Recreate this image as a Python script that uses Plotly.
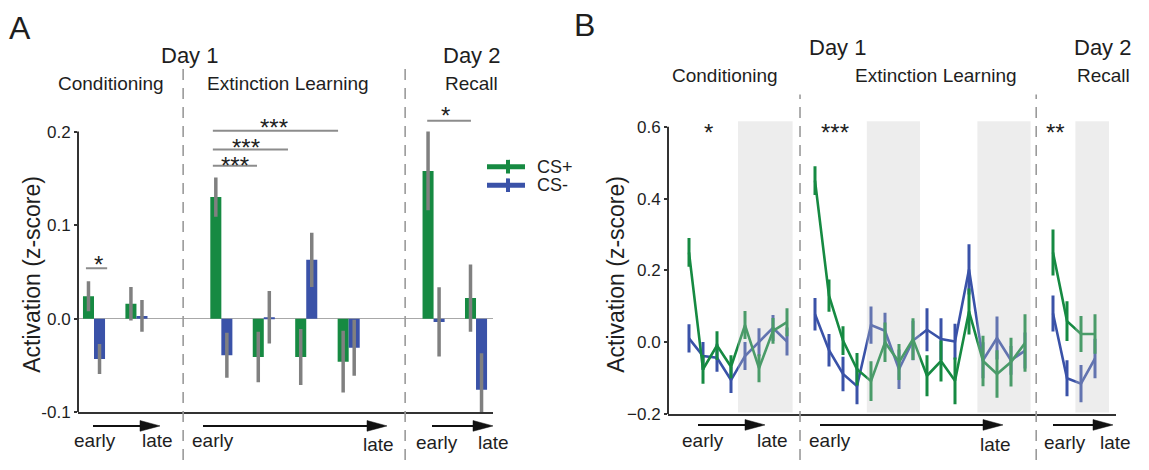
import plotly.graph_objects as go

W, H = 1149, 470
FONT = "Liberation Sans, Arial, sans-serif"
GREEN = "#168a42"
BLUE = "#3a52a8"
TXT = "#1e1e1e"


def px(x):
    return x / W


def py(y):
    return 1 - y / H


# ---------------- Panel A data (block means, z-score) ----------------
a_cond_plus = [0.024, 0.016]
a_cond_minus = [-0.043, 0.003]
a_ext_plus = [0.130, -0.041, -0.041, -0.046]
a_ext_minus = [-0.039, 0.0015, 0.063, -0.031]
a_rec_plus = [0.158, 0.022]
a_rec_minus = [-0.0035, -0.076]

a_cond_plus_err = [0.016, 0.018]
a_cond_minus_err = [0.016, 0.017]
a_ext_plus_err = [0.021, 0.027, 0.030, 0.033]
a_ext_minus_err = [0.024, 0.028, 0.029, 0.030]
a_rec_plus_err = [0.042, 0.036]
a_rec_minus_err = [0.037, 0.039]

# ---------------- Panel B data (trial-wise, z-score) ----------------
b_cond_plus = [0.25, -0.075, -0.009, -0.068, 0.048, -0.072, 0.032, 0.056]
b_cond_minus = [0.011, -0.038, -0.043, -0.105, -0.038, 0.000, 0.040, 0.002]
b_ext_plus = [0.45, 0.13, 0.005, -0.075, -0.108, 0.000, -0.055, 0.009,
              -0.093, -0.052, -0.107, 0.086, -0.052, -0.088, -0.055, -0.002]
b_ext_minus = [0.078, -0.022, -0.088, -0.122, 0.048, 0.032, -0.075, 0.005,
               0.035, 0.009, 0.002, 0.203, -0.050, 0.012, -0.050, -0.023]
b_rec_plus = [0.25, 0.059, 0.023, 0.023]
b_rec_minus = [0.08, -0.100, -0.115, -0.045]

b_cond_plus_err = [0.040, 0.040, 0.040, 0.032, 0.039, 0.039, 0.036, 0.039]
b_cond_minus_err = [0.039, 0.039, 0.039, 0.036, 0.039, 0.039, 0.036, 0.039]
b_ext_plus_err = [0.040, 0.045, 0.040, 0.045, 0.055, 0.055, 0.050, 0.058,
                  0.057, 0.057, 0.065, 0.064, 0.070, 0.066, 0.068, 0.080]
b_ext_minus_err = [0.045, 0.045, 0.048, 0.050, 0.052, 0.050, 0.055, 0.055,
                   0.060, 0.058, 0.050, 0.070, 0.050, 0.060, 0.040, 0.050]
b_rec_plus_err = [0.064, 0.055, 0.050, 0.055]
b_rec_minus_err = [0.050, 0.050, 0.052, 0.055]


def positions(lengths, start=0):
    """Consecutive integer slots per phase with one empty slot between phases."""
    out, s = [], start
    for n in lengths:
        out.append(list(range(s, s + n)))
        s += n + 1
    return out


posA = positions([len(a_cond_plus), len(a_ext_plus), len(a_rec_plus)])
xA = sum(posA, [])
posB = positions([len(b_cond_plus), len(b_ext_plus), len(b_rec_plus)])

fig = go.Figure()

# Panel A bars
err_style = dict(type="data", color="#808080", thickness=3.5, width=0, visible=True)
fig.add_trace(go.Bar(
    x=xA, y=a_cond_plus + a_ext_plus + a_rec_plus, name="CS+",
    marker=dict(color=GREEN, line=dict(width=0)), offsetgroup="p",
    error_y=dict(array=a_cond_plus_err + a_ext_plus_err + a_rec_plus_err, **err_style),
    xaxis="x", yaxis="y", showlegend=False))
fig.add_trace(go.Bar(
    x=xA, y=a_cond_minus + a_ext_minus + a_rec_minus, name="CS-",
    marker=dict(color=BLUE, line=dict(width=0)), offsetgroup="m",
    error_y=dict(array=a_cond_minus_err + a_ext_minus_err + a_rec_minus_err, **err_style),
    xaxis="x", yaxis="y", showlegend=False))

# Panel B lines
seriesB = [
    (b_cond_minus, b_cond_minus_err, BLUE, posB[0]),
    (b_ext_minus, b_ext_minus_err, BLUE, posB[1]),
    (b_rec_minus, b_rec_minus_err, BLUE, posB[2]),
    (b_cond_plus, b_cond_plus_err, GREEN, posB[0]),
    (b_ext_plus, b_ext_plus_err, GREEN, posB[1]),
    (b_rec_plus, b_rec_plus_err, GREEN, posB[2]),
]
for vals, errs, col, xs in seriesB:
    fig.add_trace(go.Scatter(
        x=xs, y=vals, mode="lines", line=dict(color=col, width=2.6),
        error_y=dict(type="data", array=errs, color=col, thickness=3, width=0),
        xaxis="x2", yaxis="y2", showlegend=False, hoverinfo="skip"))

shapes = []
# y axis lines (drawn only over the labelled range)
shapes.append(dict(type="line", xref="x domain", yref="y", x0=0, x1=0, y0=-0.1, y1=0.2,
                   line=dict(color="#333333", width=2)))
shapes.append(dict(type="line", xref="x2 domain", yref="y2", x0=0, x1=0, y0=-0.2, y1=0.6,
                   line=dict(color="#333333", width=2)))

# grey shading in panel B
for x0, x1 in [(3.5, 7.4), (12.7, 16.5), (20.6, 24.4), (27.6, 30.0)]:
    shapes.append(dict(type="rect", xref="x2", yref="y2", x0=x0, x1=x1, y0=-0.195, y1=0.615,
                       fillcolor="#c4c4c4", opacity=0.3, line=dict(width=0), layer="above"))

# dashed phase separators
dash = dict(color="#9a9a9a", width=1.6, dash="11px,8px")
for xv, top in [(2.10, 66), (7.33, 66)]:
    shapes.append(dict(type="line", xref="x", yref="paper", x0=xv, x1=xv, y0=0, y1=py(top), line=dash))
for xv, top in [(7.93, 95), (24.8, 95)]:
    shapes.append(dict(type="line", xref="x2", yref="paper", x0=xv, x1=xv, y0=0, y1=py(top), line=dash))

# significance bars (panel A)
sig_lines = [(-0.19, 0.31, 0.054), (2.80, 3.84, 0.1635), (2.80, 4.57, 0.181),
             (2.80, 5.75, 0.201), (7.85, 8.88, 0.2115)]
for x0, x1, yv in sig_lines:
    shapes.append(dict(type="line", xref="x", yref="y", x0=x0, x1=x1, y0=yv, y1=yv,
                       line=dict(color="#8c8c8c", width=2)))

# early -> late arrows
arrows = [(93, 160, 435), (203, 387, 435), (432, 493, 435),
          (698, 765, 434), (820, 1003, 434), (1053, 1113, 434)]
for x0, x1, yy in arrows:
    shapes.append(dict(type="line", xref="paper", yref="paper", x0=px(x0), x1=px(x1 - 16),
                       y0=py(yy), y1=py(yy), line=dict(color="#111111", width=2)))
    path = "M {} {} L {} {} L {} {} Z".format(px(x1), py(yy), px(x1 - 20), py(yy - 5.5),
                                              px(x1 - 20), py(yy + 5.5))
    shapes.append(dict(type="path", xref="paper", yref="paper", path=path,
                       fillcolor="#111111", line=dict(color="#111111", width=0.5)))

# legend glyphs
for col, yy in [(GREEN, 169), (BLUE, 188)]:
    shapes.append(dict(type="line", xref="paper", yref="paper", x0=px(487), x1=px(525),
                       y0=py(yy), y1=py(yy), line=dict(color=col, width=5)))
    shapes.append(dict(type="line", xref="paper", yref="paper", x0=px(508), x1=px(508),
                       y0=py(yy - 7), y1=py(yy + 7), line=dict(color=col, width=4)))

ann = []


def text(t, x, y, size, xanchor="center", angle=0):
    ann.append(dict(text=t, x=px(x), y=py(y), xref="paper", yref="paper", showarrow=False,
                    xanchor=xanchor, yanchor="middle", textangle=angle,
                    font=dict(family=FONT, size=size, color=TXT)))


text("A", 20, 27, 32)
text("B", 584, 24, 32)
for t, x, y, s in [("Day 1", 189, 55, 22), ("Conditioning", 111, 84, 19),
                   ("Extinction Learning", 288, 84, 19), ("Day 2", 471, 55, 22),
                   ("Recall", 471, 84, 19),
                   ("Day 1", 837, 47, 22), ("Conditioning", 725, 75, 19),
                   ("Extinction Learning", 936, 75, 19), ("Day 2", 1102, 47, 22),
                   ("Recall", 1103, 75, 19)]:
    text(t, x, y, s)

for t, x, y in [("early", 95, 450), ("late", 157, 450), ("early", 213, 450), ("late", 378, 454),
                ("early", 437, 452), ("late", 493, 452),
                ("early", 703, 450), ("late", 772, 450), ("early", 830, 450), ("late", 995, 454),
                ("early", 1065, 452), ("late", 1115, 452)]:
    text(t, x, y, 19)

# asterisks
for t, x, y in [("*", 98, 263), ("***", 235, 162), ("***", 246, 143), ("***", 274, 123),
                ("*", 445, 110), ("*", 708, 128), ("***", 835, 128), ("**", 1055, 128)]:
    text(t, x, y + 6, 24)

# legend labels
text("CS+", 535, 169, 18, xanchor="left")
text("CS-", 535, 188, 18, xanchor="left")

# axis titles
text("Activation (z-score)", 32, 280, 23, angle=-90)
text("Activation (z-score)", 616, 280, 23, angle=-90)

fig.update_layout(
    width=W, height=H,
    margin=dict(l=0, r=0, t=0, b=0),
    paper_bgcolor="white", plot_bgcolor="white",
    barmode="group", bargap=0.48, bargroupgap=0,
    showlegend=False,
    shapes=shapes, annotations=ann,
    font=dict(family=FONT, color=TXT),
    xaxis=dict(domain=[px(78), px(493)], range=[-0.377, 9.40], showgrid=False, zeroline=False,
               showticklabels=False, ticks="", showline=True, linecolor="#333333", linewidth=2),
    yaxis=dict(domain=[py(421), py(109)], range=[-0.1, 0.225], showgrid=False,
               zeroline=True, zerolinecolor="#a8a8a8", zerolinewidth=1,
               tickvals=[-0.1, 0.0, 0.1, 0.2], ticktext=["-0.1", "0.0", "0.1", "0.2"],
               ticks="outside", ticklen=3, tickcolor="#333333", tickwidth=1.5,
               tickfont=dict(size=17, color=TXT), showline=False),
    xaxis2=dict(domain=[px(668), px(1116)], range=[-1.5, 30.5], showgrid=False, zeroline=False,
                showticklabels=False, ticks="", showline=True, linecolor="#333333", linewidth=2,
                anchor="y2"),
    yaxis2=dict(domain=[py(423), py(120.6)], range=[-0.2, 0.62], showgrid=False, zeroline=False,
                tickvals=[-0.2, 0.0, 0.2, 0.4, 0.6], tickformat=".1f",
                ticks="outside", ticklen=3, tickcolor="#333333", tickwidth=1.5,
                tickfont=dict(size=17, color=TXT), showline=False, anchor="x2"),
)

fig.write_html(
    "out.html",
    post_script="document.body.style.margin='0px';document.body.style.overflow='hidden';",
    config={"displayModeBar": False},
)
